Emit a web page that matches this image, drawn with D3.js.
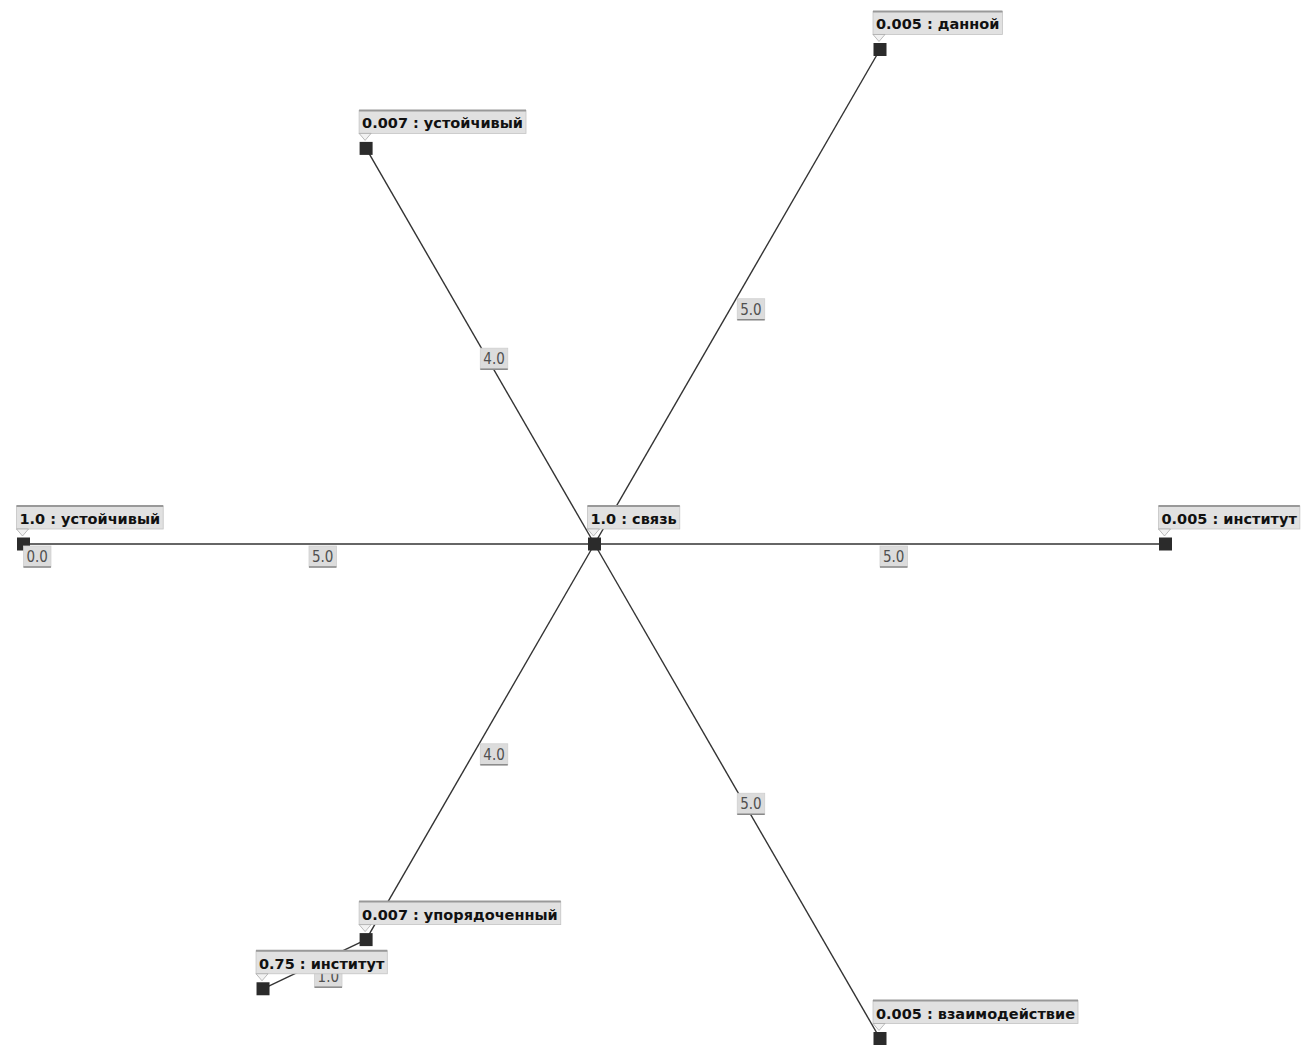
<!DOCTYPE html>
<html>
<head>
<meta charset="utf-8">
<script src="https://cdn.jsdelivr.net/npm/d3@7"></script>
<style>
  body { margin: 0; background: #fff; }
  svg { display: block; }
</style>
</head>
<body>
<script>
// canvas
const width = 1310,
  height = 1045;

// nodes: word and its score
const nodeNames = ["связь", "институт", "данной", "устойчивый", "устойчивый", "упорядоченный", "институт", "взаимодействие"];
const nodeScores = [1.0, 0.005, 0.005, 0.007, 1.0, 0.007, 0.75, 0.005];

// edges: source / target index, weight label
const edgeSource = [0, 0, 0, 0, 0, 0, 5, 4];
const edgeTarget = [1, 2, 3, 4, 5, 7, 6, 4];
const edgeWeights = [5.0, 5.0, 4.0, 5.0, 4.0, 5.0, 1.0, 0.0];
// direction of each edge in the star layout (degrees)
const edgeAngles = [0, 60, 120, 180, 240, 300, 205.5, 0];

// edge length follows the weight
const dist = d3.scaleLinear()
  .domain([0, 5])
  .range([0, 571]);

const nodes = nodeNames.map((name, i) => ({ name: name, score: nodeScores[i] }));
const edges = edgeSource.map((s, i) => ({
  source: s,
  target: edgeTarget[i],
  weight: edgeWeights[i],
  angle: edgeAngles[i]
}));

// place the root then walk the edges
nodes[0].x = 594.5;
nodes[0].y = 544;
edges.forEach(e => {
  const s = nodes[e.source], t = nodes[e.target];
  if (t.x !== undefined) return;
  const a = e.angle * Math.PI / 180;
  t.x = s.x + dist(e.weight) * Math.cos(a);
  t.y = s.y - dist(e.weight) * Math.sin(a);
});

const fmt = v => Number.isInteger(v) ? v.toFixed(1) : String(v);

const svg = d3.select("body").append("svg")
  .attr("width", width)
  .attr("height", height);

// lines
svg.selectAll(".edge")
  .data(edges.filter(e => e.source !== e.target))
  .enter().append("line")
  .attr("class", "edge")
  .attr("x1", d => nodes[d.source].x)
  .attr("y1", d => nodes[d.source].y)
  .attr("x2", d => nodes[d.target].x)
  .attr("y2", d => nodes[d.target].y)
  .attr("stroke", "#333")
  .attr("stroke-width", 1.4);

// node squares
const sq = 13;
svg.selectAll(".node")
  .data(nodes)
  .enter().append("rect")
  .attr("class", "node")
  .attr("x", d => d.x - sq / 2)
  .attr("y", d => d.y - sq / 2)
  .attr("width", sq)
  .attr("height", sq)
  .attr("fill", "#2b2b2b");

// edge weight labels at the midpoint
const el = svg.selectAll(".edge-label")
  .data(edges)
  .enter().append("g")
  .attr("class", "edge-label")
  .attr("transform", d => {
    const mx = (nodes[d.source].x + nodes[d.target].x) / 2,
      my = (nodes[d.source].y + nodes[d.target].y) / 2;
    return "translate(" + mx + "," + (my + 2) + ")";
  });

el.append("rect").attr("class", "bg");
el.append("text")
  .attr("x", 3)
  .attr("y", 16)
  .style("font-family", "'DejaVu Sans Condensed', 'DejaVu Sans'")
  .style("font-size", "15px")
  .attr("fill", "#505050")
  .text(d => fmt(d.weight));

el.each(function () {
  const g = d3.select(this);
  const w = g.select("text").node().getComputedTextLength() + 6;
  g.select("rect.bg")
    .attr("width", w)
    .attr("height", 21)
    .attr("fill", "#dcdcdc")
    .attr("stroke", "#cfcfcf")
    .attr("stroke-width", 0.8);
  g.append("line")
    .attr("x1", 0).attr("x2", w)
    .attr("y1", 21).attr("y2", 21)
    .attr("stroke", "#888")
    .attr("stroke-width", 1.5);
});

// node labels with a callout
const nl = svg.selectAll(".node-label")
  .data(nodes)
  .enter().append("g")
  .attr("class", "node-label")
  .attr("transform", d => "translate(" + (d.x - 7) + "," + (d.y - 38) + ")");

nl.append("rect").attr("class", "bg");
nl.append("text")
  .attr("x", 3)
  .attr("y", 18)
  .style("font-family", "'DejaVu Sans', sans-serif")
  .style("font-size", "14.5px")
  .style("font-weight", "bold")
  .attr("fill", "#111")
  .text(d => fmt(d.score) + " : " + d.name);

nl.each(function () {
  const g = d3.select(this);
  const w = g.select("text").node().getComputedTextLength() + 6;
  g.select("rect.bg")
    .attr("width", w)
    .attr("height", 23)
    .attr("fill", "#e1e1e1")
    .attr("stroke", "#c4c4c4")
    .attr("stroke-width", 0.8);
  g.append("line")
    .attr("x1", 0).attr("x2", w)
    .attr("y1", 0).attr("y2", 0)
    .attr("stroke", "#999")
    .attr("stroke-width", 2);
  g.append("path")
    .attr("d", "M0,23 L12,23 L6,30 Z")
    .attr("fill", "#f2f2f2")
    .attr("stroke", "#aaa")
    .attr("stroke-width", 0.8);
});
</script>
</body>
</html>
